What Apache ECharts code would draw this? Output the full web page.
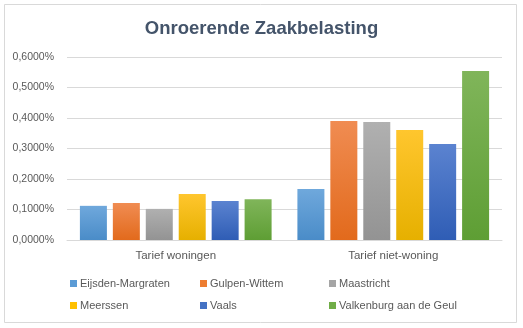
<!DOCTYPE html>
<html><head><meta charset="utf-8">
<script src="https://cdn.jsdelivr.net/npm/echarts@6/dist/echarts.min.js"></script>
<style>html,body{margin:0;padding:0;background:#fff}#c{width:523px;height:328px}</style>
</head><body><div id="c"></div>
<script>
var categories = ['Tarief woningen', 'Tarief niet-woning'];
var seriesNames = ['Eijsden-Margraten', 'Gulpen-Wittem', 'Maastricht', 'Meerssen', 'Vaals', 'Valkenburg aan de Geul'];
var eijsden = [0.112, 0.167];
var gulpen = [0.121, 0.390];
var maastricht = [0.102, 0.387];
var meerssen = [0.151, 0.361];
var vaals = [0.128, 0.315];
var valkenburg = [0.134, 0.554];
var values = [eijsden, gulpen, maastricht, meerssen, vaals, valkenburg];
var topColors = ['#6FA8DC', '#F08C52', '#B0B0B0', '#FFC62E', '#5B83D0', '#80B55A'];
var botColors = ['#4A8CC8', '#E26A1C', '#939393', '#E6B000', '#2F5DB5', '#5E9E34'];
var legendColors = ['#5B9BD5', '#ED7D31', '#A5A5A5', '#FFC000', '#4472C4', '#70AD47'];

var font = 'Liberation Sans';
var series = seriesNames.map(function (n, i) {
  return {
    name: n, type: 'bar', data: values[i],
    barWidth: 27, barGap: '22%',
    itemStyle: {
      color: new echarts.graphic.LinearGradient(0, 0, 0, 1, [
        {offset: 0, color: topColors[i]}, {offset: 1, color: botColors[i]}
      ])
    }
  };
});
var legendPos = [[65, 273], [195, 273], [324, 273], [65, 295], [195, 295], [324, 295]];
var legends = seriesNames.map(function (n, i) {
  return {
    data: [{name: n, itemStyle: {color: legendColors[i]}}],
    left: legendPos[i][0], top: legendPos[i][1],
    itemWidth: 7, itemHeight: 7, icon: 'rect', itemGap: 0,
    textStyle: {color: '#595959', fontSize: 11, fontFamily: font, padding: [0, 0, 0, -2]}
  };
});
var chart = echarts.init(document.getElementById('c'));
chart.setOption({
  animation: false,
  backgroundColor: '#fff',
  title: {
    text: 'Onroerende Zaakbelasting', left: 'center', top: 14,
    textStyle: {color: '#44546A', fontSize: 18.5, fontWeight: 'bold', fontFamily: font}
  },
  graphic: [{type: 'rect', shape: {x: 4.5, y: 4.5, width: 512, height: 318},
    style: {fill: 'none', stroke: '#D9D9D9', lineWidth: 1}, silent: true}],
  legend: legends,
  grid: {left: 67, right: 21, top: 57, bottom: 88},
  xAxis: {
    type: 'category', data: categories,
    axisLine: {lineStyle: {color: '#D9D9D9'}}, axisTick: {show: false},
    axisLabel: {color: '#595959', fontSize: 11.5, fontFamily: font, margin: 10}
  },
  yAxis: {
    type: 'value', min: 0, max: 0.6, interval: 0.1,
    axisLine: {show: false}, axisTick: {show: false},
    splitLine: {lineStyle: {color: '#D9D9D9'}},
    axisLabel: {color: '#595959', fontSize: 10.5, fontFamily: font, margin: 13,
      formatter: function (v) { return v.toFixed(4).replace('.', ',') + '%'; }}
  },
  series: series
});
</script></body></html>
